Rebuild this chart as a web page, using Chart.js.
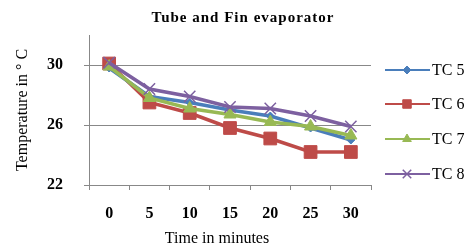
<!DOCTYPE html>
<html>
<script src="https://cdn.jsdelivr.net/npm/chart.js@4.4.1/dist/chart.umd.min.js"></script>
<body style="margin:0;background:#fff">
<div style="width:474px;height:248px"><canvas id="myChart"></canvas></div>
<script>
    const minutes = ["0", "5", "10", "15", "20", "25", "30"];
    const tc5 = [29.8, 27.9, 27.5, 27.0, 26.6, 25.8, 25.0];
    const tc6 = [30.1, 27.5, 26.8, 25.8, 25.1, 24.2, 24.2];
    const tc7 = [29.9, 27.8, 27.1, 26.7, 26.2, 25.9, 25.3];
    const tc8 = [30.15, 28.4, 27.9, 27.2, 27.1, 26.6, 25.9];
    const yTicks = [22, 26, 30];

    const serif = "'Liberation Serif', 'Times New Roman', serif";

    // title, x title and legend drawn by hand, Excel style
    const extras = {
        id: "extras",
        afterDraw(chart) {
            const ctx = chart.ctx;
            ctx.save();
            ctx.fillStyle = "#000";
            ctx.textAlign = "center";
            ctx.textBaseline = "middle";
            ctx.font = "16px " + serif;
            ctx.fillText("Time in minutes", 217, 239);
            ctx.font = "bold 15px " + serif;
            ctx.letterSpacing = "1px";
            ctx.fillText("Tube and Fin evaporator", 243, 18);
            ctx.letterSpacing = "0px";

            const ys = [70, 104, 139, 174];
            chart.data.datasets.forEach((ds, i) => {
                const y = ys[i];
                ctx.strokeStyle = ds.borderColor;
                ctx.fillStyle = ds.borderColor;
                ctx.lineWidth = 2;
                ctx.beginPath();
                ctx.moveTo(385, y);
                ctx.lineTo(430, y);
                ctx.stroke();
                ctx.lineWidth = ds.pointStyle === "crossRot" ? 1.5 : 1;
                Chart.helpers.drawPoint(ctx, {
                    pointStyle: ds.pointStyle,
                    radius: ds.legendRadius,
                    borderWidth: ctx.lineWidth
                }, 407, y);
                ctx.fillStyle = "#000";
                ctx.font = "16px " + serif;
                ctx.textAlign = "left";
                ctx.fillText(ds.label, 432, y + 1);
            });
            ctx.restore();
        }
    };

    function series(label, data, color, style, r, lr, order) {
        return {
            label: label,
            data: data,
            borderColor: color,
            backgroundColor: color,
            pointBackgroundColor: color,
            pointBorderColor: color,
            borderWidth: 3.5,
            pointStyle: style,
            pointRadius: r,
            pointBorderWidth: style === "crossRot" ? 1.5 : 1,
            legendRadius: lr,
            tension: 0,
            order: order
        };
    }

    const chart = new Chart(document.getElementById("myChart"), {
        type: "line",
        data: {
            labels: minutes,
            datasets: [
                series("TC 5", tc5, "#4a7ebb", "rectRot", 4, 4, 2),
                series("TC 6", tc6, "#be4b48", "rect", 9, 6, 3),
                series("TC 7", tc7, "#98b954", "triangle", 7, 5, 1),
                series("TC 8", tc8, "#7d60a0", "crossRot", 8, 6, 0)
            ]
        },
        options: {
            responsive: true,
            maintainAspectRatio: false,
            animation: false,
            layout: { padding: { top: 35, right: 103, left: 0, bottom: 0 } },
            plugins: {
                legend: { display: false },
                title: { display: false },
                tooltip: { enabled: false }
            },
            scales: {
                x: {
                    offset: true,
                    afterFit(s) { s.height = 63; },
                    grid: { offset: true, drawOnChartArea: false, tickLength: 5, color: "#888" },
                    border: { color: "#888" },
                    ticks: { color: "#000", padding: 14, font: { family: serif, size: 16, weight: "bold" } }
                },
                y: {
                    min: 22,
                    max: 32,
                    afterFit(s) { s.width = 89; },
                    afterBuildTicks(s) { s.ticks = yTicks.map(v => ({ value: v })); },
                    grid: { tickLength: 5, color: "#888" },
                    border: { color: "#888" },
                    ticks: { color: "#000", padding: 21, font: { family: serif, size: 16, weight: "bold" } },
                    title: {
                        display: true, text: "Temperature in ° C", color: "#000",
                        padding: { top: 13, bottom: 0 },
                        font: { family: serif, size: 16 }
                    }
                }
            }
        },
        plugins: [extras]
    });
</script>
</body>
</html>
